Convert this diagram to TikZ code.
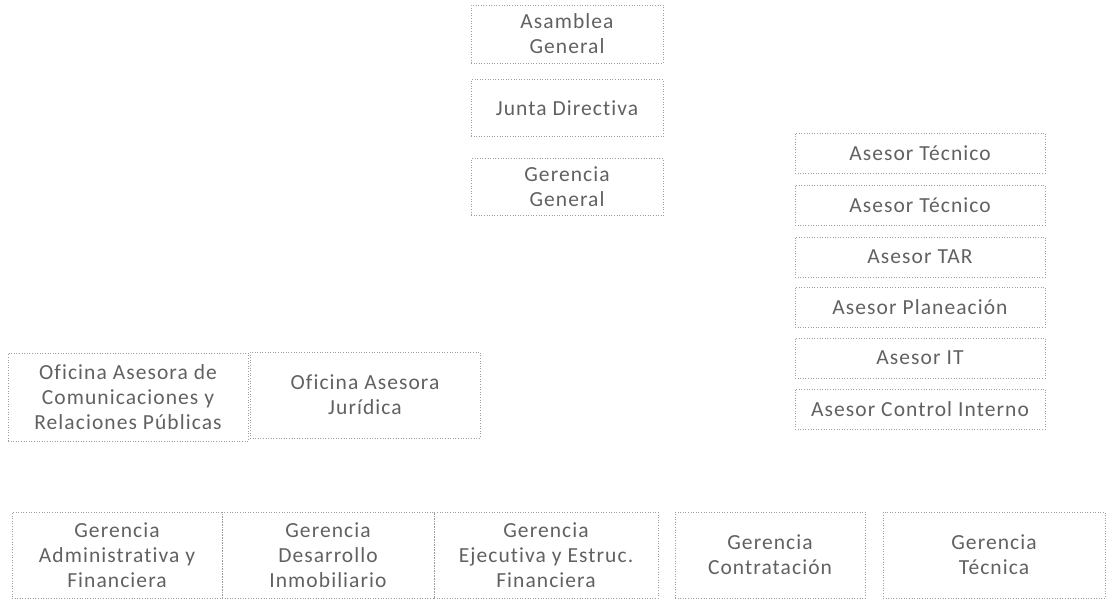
\documentclass[tikz,border=0pt]{standalone}
\usepackage{fontspec}
\setmainfont[LetterSpace=5,Ligatures=NoCommon]{Carlito}
\colorlet{fg}{black!62}
\colorlet{edge}{black!38}
\tikzset{
  unit/.style={draw=edge, dotted, line width=0.6pt, text=fg, align=center,
    inner sep=0pt, font=\fontsize{21.5}{25}\selectfont},
  asesor/.style={unit, minimum width=250pt, minimum height=40pt}
}

\begin{document}
\begin{tikzpicture}[x=1pt,y=-1pt]
	    \useasboundingbox (0,0) rectangle (1111,598);
	    \node[unit, minimum width=192pt, minimum height=58pt] (asamblea) at (567,34) {Asamblea\\General};
	    \node[unit, minimum width=192pt, minimum height=57pt] (junta) at (567,108) {Junta Directiva};
	    \node[unit, minimum width=192pt, minimum height=57pt] (gergen) at (567,187) {Gerencia\\General};
	    \node[asesor] (astec) at (920,153) {Asesor Técnico};
	    \node[asesor] (astecb) at (920,205) {Asesor Técnico};
	    \node[asesor] (astar) at (920,257) {Asesor TAR};
	    \node[asesor] (asplan) at (920,307) {Asesor Planeación};
	    \node[asesor] (asit) at (920,358) {Asesor IT};
	    \node[asesor] (ascontrol) at (920,409) {Asesor Control Interno};
	    \node[unit, minimum width=240pt, minimum height=88pt] (ofcom) at (128,397) {Oficina Asesora de\\Comunicaciones y\\Relaciones Públicas};
	    \node[unit, minimum width=230pt, minimum height=86pt] (ofjur) at (365,395) {Oficina Asesora\\Jurídica};
	    \node[unit, minimum width=210pt, minimum height=86pt] (geradm) at (117,555) {Gerencia\\Administrativa y\\Financiera};
	    \node[unit, minimum width=212pt, minimum height=86pt] (gerdes) at (328,555) {Gerencia\\Desarrollo\\Inmobiliario};
	    \node[unit, minimum width=224pt, minimum height=86pt] (gerej) at (546,555) {Gerencia\\Ejecutiva y Estruc.\\Financiera};
	    \node[unit, minimum width=190pt, minimum height=86pt] (gercon) at (770,555) {Gerencia\\Contratación};
	    \node[unit, minimum width=222pt, minimum height=86pt] (gertec) at (994,555) {Gerencia\\Técnica};
        \end{tikzpicture}
\end{document}
